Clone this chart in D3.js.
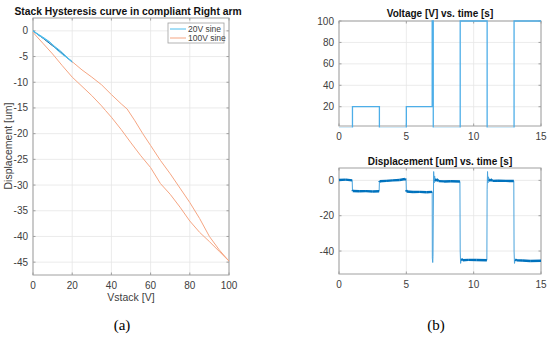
<!DOCTYPE html>
<html>
<head>
<meta charset="utf-8">
<script src="https://d3js.org/d3.v7.min.js"></script>
<style>
  body { margin: 0; background: #fff; }
  svg text { font-family: "Liberation Sans", Arial, sans-serif; }
  svg text.panel { font-family: "Liberation Serif", "Times New Roman", serif; }
</style>
</head>
<body>
<div id="viz"></div>
<script>
// ---- data ----
// (a) hysteresis, 100V sine: upper branch then lower branch
var up100V = [0, 5, 10, 15, 20, 25, 30, 35, 40, 45, 48, 52, 56, 60, 65, 70, 75, 80, 85, 90, 95, 100];
var up100D = [0, -1.4, -2.9, -4.4, -6.0, -7.6, -9.0, -10.5, -12.4, -14.2, -15.2, -17.5, -20.0, -22.3, -25.2, -27.8, -30.6, -33.4, -36.5, -40.0, -42.6, -44.8];
var lo100V = [100, 95, 90, 85, 80, 75, 70, 65, 60, 55, 50, 45, 40, 37, 35, 30, 25, 20, 15, 10, 5, 0];
var lo100D = [-44.8, -42.9, -41.0, -39.2, -37.0, -34.3, -31.8, -29.7, -26.6, -24.3, -21.8, -19.2, -16.8, -15.5, -14.6, -12.6, -10.8, -9.0, -6.8, -4.5, -2.4, -0.3];
// 20V sine loop
var v20V = [0, 3, 6, 9, 12, 15, 18, 20, 17, 14, 11, 8, 5, 2, 0];
var v20D = [0, -0.9, -1.6, -2.3, -3.6, -4.6, -5.4, -6.0, -5.0, -3.9, -3.0, -2.0, -1.2, -0.5, 0];
// dark trace under the 20V loop
var darkV = [0, 5, 10, 15, 20];
var darkD = [0, -1.4, -2.9, -4.4, -6.1];

var legendLabels = ["20V sine", "100V sine"];
var hystXTicks = [0, 20, 40, 60, 80, 100];
var hystYTicks = [0, -5, -10, -15, -20, -25, -30, -35, -40, -45];

// (b) voltage vs time (step after)
var voltT = [0, 1, 3, 5, 6.92, 6.94, 6.95, 6.965, 6.975, 7.0, 9, 11, 13, 15];
var voltV = [0, 20, 0, 20, 100, 30, 100, 40, 100, 0, 100, 0, 100, 100];
// displacement vs time
var dispT = [0, 0.5, 0.98, 1.0, 1.02, 1.5, 2, 2.5, 2.98, 3.0, 3.02, 3.5, 4, 4.5, 4.9, 4.98, 5.0, 5.02, 5.5, 6, 6.5, 6.92,
             6.93, 6.96, 6.98, 7.0, 7.03, 7.06, 7.1, 7.15, 7.25, 7.4, 7.8, 8.3, 8.98, 9.0, 9.03, 9.08, 9.2, 9.6, 10.2, 10.98,
             11.0, 11.03, 11.06, 11.1, 11.15, 11.25, 11.4, 11.8, 12.4, 12.98, 13.0, 13.03, 13.08, 13.2, 13.6, 14.2, 15];
var dispV = [0.2, 0.4, 0, -5.5, -6, -6.2, -6.1, -6.3, -6.2, -1, -0.5, -0.3, 0, 0.2, 0.8, 0.3, -5.5, -6.3, -6.6, -6.5, -6.7, -6.5,
             -44, -46.5, -43, -20, 5, -1.5, 2.5, -0.5, 0.8, -0.4, -0.6, -0.5, -0.6, -40, -47, -44.5, -45.2, -45, -45.1, -45.2,
             -5, 5, -1.5, 2, -0.5, 0.6, -0.3, -0.2, -0.3, -0.4, -40, -47, -44.8, -45.3, -45.4, -45.6, -45.5];
var timeTicks = [0, 5, 10, 15];
var voltTicks = [20, 40, 60, 80, 100];
var dispTicks = [-40, -20, 0];

// ---- drawing ----
var svg = d3.select("#viz").append("svg").attr("width", 550).attr("height", 337);
var gridCol = "#e6e6e6", boxCol = "#a0a0a0", textCol = "#404040";

function zip(a, b) { return a.map(function (d, i) { return [d, b[i]]; }); }

// grid + box + ticks, data goes on top afterwards
function axes(x, y, xt, yt, id) {
  var r = x.range(), rr = y.range();
  var x0 = r[0], x1 = r[1], y0 = rr[1], y1 = rr[0];
  var g = svg.append("g");
  g.selectAll(".gx").data(xt).enter().append("line")
    .attr("x1", function (d) { return x(d); }).attr("x2", function (d) { return x(d); })
    .attr("y1", y0).attr("y2", y1).attr("stroke", gridCol).attr("stroke-width", 0.8);
  g.selectAll(".gy").data(yt).enter().append("line")
    .attr("y1", function (d) { return y(d); }).attr("y2", function (d) { return y(d); })
    .attr("x1", x0).attr("x2", x1).attr("stroke", gridCol).attr("stroke-width", 0.8);
  g.append("rect").attr("x", x0).attr("y", y0).attr("width", x1 - x0).attr("height", y1 - y0)
    .attr("fill", "none").attr("stroke", boxCol).attr("stroke-width", 1);
  xt.forEach(function (d) {
    g.append("line").attr("x1", x(d)).attr("x2", x(d)).attr("y1", y1).attr("y2", y1 - 2.5).attr("stroke", boxCol);
    g.append("line").attr("x1", x(d)).attr("x2", x(d)).attr("y1", y0).attr("y2", y0 + 2.5).attr("stroke", boxCol);
    g.append("text").attr("x", x(d)).attr("y", y1 + 14).attr("text-anchor", "middle")
      .attr("font-size", 10).attr("fill", textCol).text(d);
  });
  yt.forEach(function (d) {
    g.append("line").attr("y1", y(d)).attr("y2", y(d)).attr("x1", x0).attr("x2", x0 + 2.5).attr("stroke", boxCol);
    g.append("line").attr("y1", y(d)).attr("y2", y(d)).attr("x1", x1).attr("x2", x1 - 2.5).attr("stroke", boxCol);
    g.append("text").attr("x", x0 - 5).attr("y", y(d) + 3.5).attr("text-anchor", "end")
      .attr("font-size", 10).attr("fill", textCol).text(d);
  });
  // a little slack so lines lying on the box edge still show
  svg.append("clipPath").attr("id", id).append("rect")
    .attr("x", x0 - 1.5).attr("y", y0 - 1.5).attr("width", x1 - x0 + 3).attr("height", y1 - y0 + 3);
}

// (a) hysteresis
var xa = d3.scaleLinear().domain([0, 100]).range([33, 229]);
var ya = d3.scaleLinear().domain([-47.5, 2.5]).range([275, 18]);
axes(xa, ya, hystXTicks, hystYTicks, "clipA");
var lineA = d3.line().x(function (d) { return xa(d[0]); }).y(function (d) { return ya(d[1]); });
var ga = svg.append("g").attr("clip-path", "url(#clipA)");
ga.append("path").attr("d", lineA(zip(up100V, up100D).concat(zip(lo100V, lo100D))))
  .attr("fill", "none").attr("stroke", "#f5a582").attr("stroke-width", 1);
ga.append("path").attr("d", lineA(zip(darkV, darkD)))
  .attr("fill", "none").attr("stroke", "#0072bd").attr("stroke-width", 1);
ga.append("path").attr("d", lineA(zip(v20V, v20D)))
  .attr("fill", "none").attr("stroke", "#4dbeee").attr("stroke-width", 1);

svg.append("text").attr("x", 128).attr("y", 15).attr("text-anchor", "middle")
  .attr("font-size", 10.3).attr("font-weight", "bold").attr("fill", "#111")
  .text("Stack Hysteresis curve in compliant Right arm");
svg.append("text").attr("x", 131).attr("y", 301).attr("text-anchor", "middle")
  .attr("font-size", 10.5).attr("fill", textCol).text("Vstack [V]");
svg.append("text").attr("transform", "translate(12,146) rotate(-90)").attr("text-anchor", "middle")
  .attr("font-size", 10.5).attr("fill", textCol).text("Displacement [um]");

// legend
var lg = svg.append("g");
lg.append("rect").attr("x", 168).attr("y", 23).attr("width", 56).attr("height", 20)
  .attr("fill", "#fff").attr("stroke", boxCol).attr("stroke-width", 0.8);
var legCols = ["#4dbeee", "#f5a582"];
legendLabels.forEach(function (d, i) {
  var yy = 29 + i * 9;
  lg.append("line").attr("x1", 170).attr("x2", 186).attr("y1", yy).attr("y2", yy)
    .attr("stroke", legCols[i]).attr("stroke-width", 1);
  lg.append("text").attr("x", 188).attr("y", yy + 3).attr("font-size", 8.5).attr("fill", textCol).text(d);
});

// (b) top: voltage
var xb = d3.scaleLinear().domain([0, 15]).range([339, 541]);
var yv = d3.scaleLinear().domain([2, 100]).range([126, 21]);
axes(xb, yv, timeTicks, voltTicks, "clipV");
var lineV = d3.line().curve(d3.curveStepAfter)
  .x(function (d) { return xb(d[0]); }).y(function (d) { return yv(d[1]); });
svg.append("g").attr("clip-path", "url(#clipV)").append("path")
  .attr("d", lineV(zip(voltT, voltV)))
  .attr("fill", "none").attr("stroke", "#4daee8").attr("stroke-width", 1.3);
svg.append("text").attr("x", 440).attr("y", 17).attr("text-anchor", "middle")
  .attr("font-size", 10).attr("font-weight", "bold").attr("fill", "#111").text("Voltage [V] vs. time [s]");

// (b) bottom: displacement
var yd = d3.scaleLinear().domain([-53, 7]).range([274, 168]);
axes(xb, yd, timeTicks, dispTicks, "clipD");
var lineD = d3.line().x(function (d) { return xb(d[0]); }).y(function (d) { return yd(d[1]); });
var dpts = zip(dispT, dispV);
var gd = svg.append("g").attr("clip-path", "url(#clipD)");
gd.append("path").attr("d", lineD(dpts))
  .attr("fill", "none").attr("stroke", "#4aa3dc").attr("stroke-width", 1);
// plateaus are noisy in the original: draw them thicker
var flat = [];
for (var i = 1; i < dpts.length; i++) {
  if (Math.abs(dpts[i][1] - dpts[i - 1][1]) < 1.5) flat.push([dpts[i - 1], dpts[i]]);
}
gd.selectAll(".flat").data(flat).enter().append("path")
  .attr("d", function (d) { return lineD(d); })
  .attr("fill", "none").attr("stroke", "#0072bd").attr("stroke-width", 2.4);
svg.append("text").attr("x", 440).attr("y", 165).attr("text-anchor", "middle")
  .attr("font-size", 10).attr("font-weight", "bold").attr("fill", "#111").text("Displacement [um] vs. time [s]");

// panel labels
svg.append("text").attr("class", "panel").attr("x", 122).attr("y", 330).attr("text-anchor", "middle")
  .attr("font-size", 15).attr("fill", "#000").text("(a)");
svg.append("text").attr("class", "panel").attr("x", 436).attr("y", 330).attr("text-anchor", "middle")
  .attr("font-size", 15).attr("fill", "#000").text("(b)");
</script>
</body>
</html>
